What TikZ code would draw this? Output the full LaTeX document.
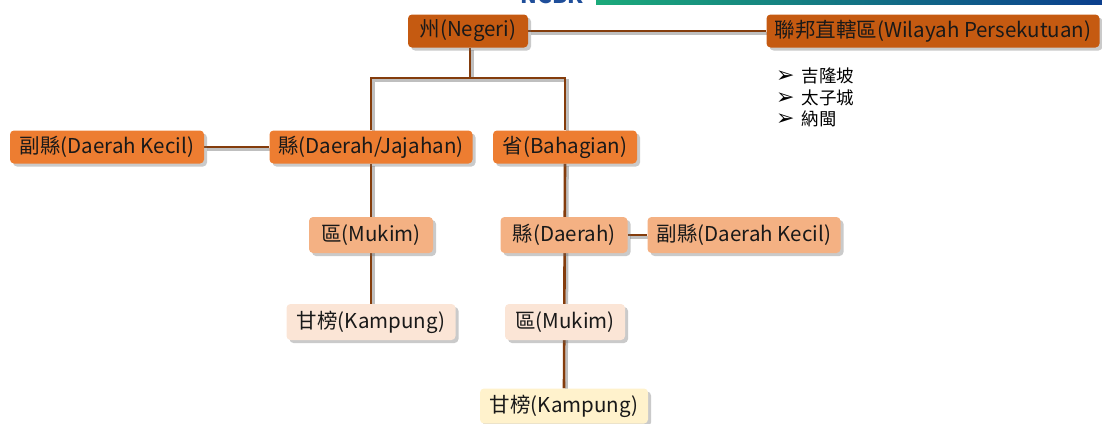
\documentclass[tikz,border=0pt]{standalone}
\usepackage{fontspec}
\setmainfont{Noto Sans CJK TC}
\newfontfamily\dejavu{DejaVu Sans}
\usetikzlibrary{shadows,backgrounds}
\definecolor{lvA}{HTML}{C55A11}
\definecolor{lvB}{HTML}{ED7D31}
\definecolor{lvC}{HTML}{F4B183}
\definecolor{lvD}{HTML}{FBE5D6}
\definecolor{lvE}{HTML}{FFF2CC}
\definecolor{conn}{HTML}{843C0C}
\definecolor{logoblue}{HTML}{1F4E9A}
\tikzset{
  box/.style={rounded corners=4pt, inner sep=0pt, align=center, font=\fontsize{20.5}{22}\selectfont,
    text=black!90, drop shadow={shadow xshift=3pt, shadow yshift=-3pt, opacity=0.35, fill=black!60}},
  lA/.style={box, fill=lvA, minimum height=33pt},
  lB/.style={box, fill=lvB, minimum height=33pt},
  lC/.style={box, fill=lvC, minimum height=36pt},
  lD/.style={box, fill=lvD, minimum height=36pt},
  lE/.style={box, fill=lvE, minimum height=35pt},
  link/.style={draw=conn, line width=2.6pt,
    preaction={draw=black!25, line width=2.6pt, transform canvas={shift={(2.5pt,-2.5pt)}}}},
  bul/.style={anchor=west, inner sep=0pt, font=\fontsize{17.5}{20}\selectfont}
}
\newcommand{\arrbul}{{\dejavu\fontsize{22}{22}\selectfont ➢}\hspace{7pt}}
\begin{document}
\begin{tikzpicture}[x=1pt,y=-1pt]
\useasboundingbox (0,0) rectangle (1102,423);
% header fragment
\node[anchor=base, font=\fontsize{22}{24}\selectfont\bfseries, text=logoblue, inner sep=0pt] (logo) at (552,3) {NCBK};
\shade[left color={rgb,255:red,27;green,170;blue,122}, middle color={rgb,255:red,10;green,122;blue,153}, right color={rgb,255:red,11;green,63;blue,142}] (596,0) rectangle (1102,4);
% nodes
\node[lA, minimum width=120pt] (neg) at (468,31) {州(Negeri)};
\node[lA, minimum width=333pt] (fed) at (933,31) {聯邦直轄區(Wilayah Persekutuan)};
\node[lB, minimum width=194pt] (dk1) at (107,147) {副縣(Daerah Kecil)};
\node[lB, minimum width=203pt] (dj) at (371,147) {縣(Daerah/Jajahan)};
\node[lB, minimum width=144pt] (bah) at (565,147) {省(Bahagian)};
\node[lC, minimum width=124pt] (muk1) at (371,235) {區(Mukim)};
\node[lC, minimum width=127pt] (dae) at (564,235) {縣(Daerah)};
\node[lC, minimum width=193pt] (dk2) at (744,235) {副縣(Daerah Kecil)};
\node[lD, minimum width=169pt] (kam1) at (371,322) {甘榜(Kampung)};
\node[lD, minimum width=120pt] (muk2) at (565,322) {區(Mukim)};
\node[lE, minimum width=168pt] (kam2) at (564,406) {甘榜(Kampung)};
% bullets
\node[bul] (b1) at (776,76) {\arrbul 吉隆坡};
\node[bul] (b2) at (776,97.5) {\arrbul 太子城};
\node[bul] (b3) at (776,119) {\arrbul 納閩};
% connectors
\coordinate (jn) at (470,78);
\begin{scope}[on background layer]
\draw[link] (neg.east) -- (fed.west);
\draw[link] (neg.south -| jn) -- (jn);
\draw[link] (dj.north) |- (jn) -| (bah.north);
\draw[link] (dk1.east) -- (dj.west);
\draw[link] (dj.south) -- (kam1.north);
\draw[link] (bah.south) -- (kam2.north);
\draw[link] (dae.east) -- (dk2.west);
\end{scope}
\end{tikzpicture}
\end{document}
